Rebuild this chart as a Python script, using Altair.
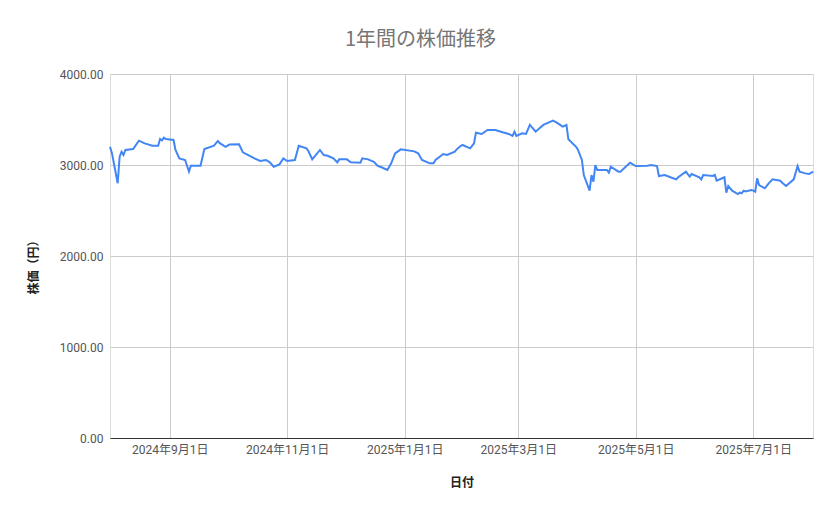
import altair as alt
import pandas as pd

dates = [
    "2024-08-01", "2024-08-02", "2024-08-05", "2024-08-06", "2024-08-07", "2024-08-08", "2024-08-09",
    "2024-08-13", "2024-08-16", "2024-08-19", "2024-08-23", "2024-08-26", "2024-08-27", "2024-08-28",
    "2024-08-29", "2024-08-30", "2024-09-03", "2024-09-04", "2024-09-06", "2024-09-09", "2024-09-11",
    "2024-09-12", "2024-09-17", "2024-09-19", "2024-09-24", "2024-09-26", "2024-09-27", "2024-09-30",
    "2024-10-02", "2024-10-07", "2024-10-09", "2024-10-11", "2024-10-15", "2024-10-18", "2024-10-21",
    "2024-10-23", "2024-10-25", "2024-10-28", "2024-10-30", "2024-11-01", "2024-11-05", "2024-11-07",
    "2024-11-11", "2024-11-12", "2024-11-14", "2024-11-18", "2024-11-20", "2024-11-22", "2024-11-25",
    "2024-11-27", "2024-11-28", "2024-12-02", "2024-12-04", "2024-12-09", "2024-12-10", "2024-12-13",
    "2024-12-16", "2024-12-18", "2024-12-20", "2024-12-23", "2024-12-25", "2024-12-27", "2024-12-30",
    "2025-01-06", "2025-01-08", "2025-01-10", "2025-01-14", "2025-01-16", "2025-01-17", "2025-01-21",
    "2025-01-23", "2025-01-27", "2025-01-28", "2025-01-30", "2025-01-31", "2025-02-04", "2025-02-06",
    "2025-02-07", "2025-02-10", "2025-02-13", "2025-02-17", "2025-02-20", "2025-02-24", "2025-02-26",
    "2025-02-27", "2025-02-28", "2025-03-03", "2025-03-05", "2025-03-07", "2025-03-10", "2025-03-12",
    "2025-03-14", "2025-03-19", "2025-03-21", "2025-03-24", "2025-03-26", "2025-03-27", "2025-03-31",
    "2025-04-01", "2025-04-03", "2025-04-04", "2025-04-07", "2025-04-08", "2025-04-09", "2025-04-10",
    "2025-04-11", "2025-04-14", "2025-04-16", "2025-04-17", "2025-04-18", "2025-04-22", "2025-04-23",
    "2025-04-28", "2025-05-01", "2025-05-07", "2025-05-09", "2025-05-12", "2025-05-13", "2025-05-16",
    "2025-05-19", "2025-05-22", "2025-05-23", "2025-05-27", "2025-05-29", "2025-05-30", "2025-06-03",
    "2025-06-04", "2025-06-05", "2025-06-10", "2025-06-11", "2025-06-12", "2025-06-16", "2025-06-17",
    "2025-06-18", "2025-06-20", "2025-06-23", "2025-06-24", "2025-06-25", "2025-06-26", "2025-06-27",
    "2025-06-30", "2025-07-01", "2025-07-02", "2025-07-03", "2025-07-04", "2025-07-07", "2025-07-09",
    "2025-07-11", "2025-07-15", "2025-07-16", "2025-07-18", "2025-07-22", "2025-07-24", "2025-07-25",
    "2025-07-28", "2025-07-30", "2025-08-01",
]

prices = [
    3200, 3130, 2800, 3091, 3146, 3110, 3165,
    3176, 3267, 3238, 3212, 3212, 3286, 3270,
    3300, 3286, 3275, 3165, 3073, 3055, 2927,
    2993, 2993, 3176, 3212, 3264, 3240, 3200,
    3225, 3227, 3139, 3117, 3073, 3044, 3055,
    3029, 2981, 3007, 3073, 3044, 3055, 3212,
    3183, 3154, 3062, 3165, 3110, 3102, 3073,
    3029, 3062, 3062, 3029, 3025, 3073, 3062,
    3036, 2989, 2975, 2945, 3018, 3128, 3172,
    3150, 3128, 3055, 3018, 3018, 3055, 3121,
    3110, 3146, 3172, 3209, 3220, 3183, 3238,
    3355, 3341, 3385, 3385, 3366, 3341, 3319,
    3366, 3319, 3348, 3341, 3440, 3366, 3403,
    3440, 3487, 3465, 3421, 3440, 3282, 3200,
    3165, 3055, 2890, 2718, 2890, 2817, 3000,
    2945, 2945, 2945, 2916, 2981, 2927, 2927,
    3025, 2989, 2993, 3000, 2989, 2879, 2890,
    2865, 2842, 2865, 2927, 2872, 2901, 2865,
    2842, 2890, 2879, 2890, 2828, 2865, 2696,
    2769, 2718, 2681, 2696, 2689, 2718, 2710,
    2725, 2718, 2707, 2853, 2780, 2744, 2799,
    2842, 2828, 2806, 2769, 2842, 2989, 2927,
    2908, 2901, 2927,
]

tick_dates = ["2024-09-01", "2024-11-01", "2025-01-01", "2025-03-01", "2025-05-01", "2025-07-01"]
y_ticks = [0, 1000, 2000, 3000, 4000]

title_text = "1年間の株価推移"
x_title = "日付"
y_title = "株価（円）"


def to_dt(s):
    y, m, d = (int(v) for v in s.split("-"))
    return alt.DateTime(year=y, month=m, date=d)


df = pd.DataFrame({"date": [d.replace("-", "/") for d in dates], "price": prices})

FONT = "Roboto, Noto Sans CJK JP"

chart = (
    alt.Chart(df)
    .mark_line(color="#4285f4", strokeWidth=2, interpolate="linear")
    .encode(
        x=alt.X(
            "date:T",
            title=x_title,
            scale=alt.Scale(domain=[to_dt(dates[0]), to_dt(dates[-1])], nice=False),
            axis=alt.Axis(
                values=[to_dt(t) for t in tick_dates],
                format="%Y年%-m月%-d日",
                labelFont=FONT,
                labelFontSize=12,
                labelColor="#555555",
                labelPadding=6,
                labelFlush=False,
                ticks=False,
                grid=True,
                gridColor="#cccccc",
                domain=True,
                domainColor="#333333",
                domainWidth=1,
                titleFont="Noto Sans CJK JP",
                titleFontSize=12,
                titleFontWeight="bold",
                titleColor="#222222",
                titlePadding=22,
            ),
        ),
        y=alt.Y(
            "price:Q",
            title=y_title,
            scale=alt.Scale(domain=[0, 4000], nice=False, zero=True),
            axis=alt.Axis(
                values=y_ticks,
                format=".2f",
                labelFont=FONT,
                labelFontSize=12,
                labelColor="#555555",
                labelPadding=7,
                ticks=False,
                domain=False,
                grid=True,
                gridColor="#cccccc",
                titleFont="Noto Sans CJK JP",
                titleFontSize=12,
                titleFontWeight="bold",
                titleColor="#222222",
                titleAngle=-90,
                titleBaseline="middle",
                titleAlign="center",
                titleX=-77,
                titleY=190,
            ),
        ),
    )
    .properties(
        width=703,
        height=364,
        title=alt.TitleParams(
            text=title_text,
            font="Noto Sans CJK JP",
            fontSize=20,
            fontWeight="normal",
            color="#757575",
            anchor="middle",
            dx=-41,
            offset=18,
        ),
        autosize=alt.AutoSizeParams(type="none"),
        padding={"left": 102, "top": 66, "right": 16, "bottom": 60},
    )
    .configure_view(stroke=None)
    .configure(background="white")
)

chart.save("out.html", embed_options={"renderer": "svg", "actions": False})
